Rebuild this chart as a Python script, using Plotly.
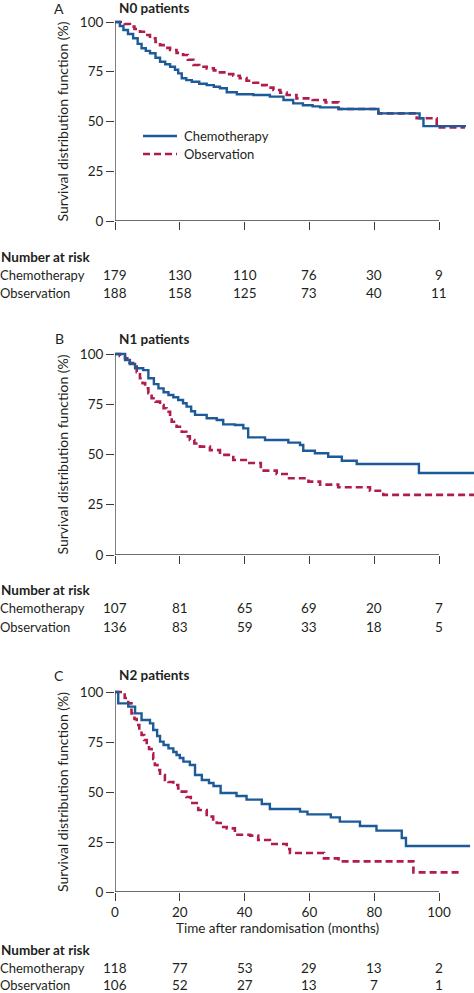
import plotly.graph_objects as go

# ---------------- DATA ----------------
months_ticks = [0, 20, 40, 60, 80, 100]
surv_ticks = [0, 25, 50, 75, 100]

# Panel A - N0 patients
a_chemo_t = [0, 1.5, 2.6, 4, 5.6, 7, 8.2, 9.5, 10.8, 12.5, 13.9, 15.5, 17, 18.5, 19.5, 20.6, 22, 23.7, 26, 28.3,
             30.5, 32.4, 34.5, 37.6, 42.7, 47.8, 52, 55, 58, 61, 63.3, 69, 81.3, 94, 95.2, 108.3]
a_chemo_s = [100, 98, 96, 94, 91.8, 89, 86.8, 85.5, 84.3, 82, 80, 78.8, 77.5, 76, 74.2, 71.7, 70.8, 70, 69, 68.3,
             67.5, 66.7, 64.7, 63.7, 63.3, 62.5, 60.8, 59.1, 58.2, 57.6, 57.1, 56.3, 54.1, 51.6, 47.7, 47.7]
a_obs_t = [0, 3, 4.6, 6, 7.7, 9.5, 10.8, 12.5, 13.9, 15.5, 17, 19, 21, 22.5, 24.2, 26, 28.3, 30.5, 32.4, 34.5,
           36.5, 38.5, 40.6, 42.7, 44.8, 46.8, 48.9, 51, 53, 56, 61, 65, 69, 81.3, 93.1, 99.3, 108]
a_obs_s = [100, 99, 97.7, 96.5, 95.1, 93.5, 91.8, 90, 88.4, 87, 85.9, 84.5, 83.4, 81, 78.4, 77.5, 76.7, 75.7, 74.7, 73.8,
           73, 71.8, 70.5, 69.5, 68.3, 67, 65.8, 64.5, 63.3, 61.6, 60.8, 59.6, 56.3, 54.1, 51.6, 47, 47]

# Panel B - N1 patients
b_chemo_t = [0, 3.1, 4.6, 6.2, 8.7, 10.3, 12, 13.4, 15, 16.5, 18, 19.5, 21, 22.1, 23.5, 24.7, 28.3, 31.4, 33.4, 37,
             39.6, 41.1, 46.3, 53.5, 57.1, 58.1, 61.7, 65.8, 70, 74.6, 93.8, 110.8]
b_chemo_s = [100, 97, 95, 92.9, 92, 87.9, 85, 82.9, 81, 79.6, 78.5, 77.1, 75.5, 73.8, 71.5, 69.7, 68, 67.2, 65, 64.7,
             63, 58.5, 57.2, 55.9, 54.7, 51.9, 50.6, 48.9, 46.9, 45.3, 40.8, 40.8]
b_obs_t = [0, 1.5, 3.1, 4.5, 5.6, 6.7, 7.7, 8.5, 9.3, 10.3, 11.3, 12.5, 13.9, 15, 15.9, 17, 17.5, 19, 20.6, 22,
           23.1, 24.5, 26.2, 29.3, 32.4, 36.5, 41, 45, 49.9, 53, 59.7, 63.3, 68.9, 78.7, 82.8, 110.8]
b_obs_s = [100, 99, 97.8, 95.5, 93.7, 91, 87.9, 85.5, 82.9, 80.5, 78, 76.3, 74.6, 73, 71.3, 69, 66.3, 63.8, 61.3, 59,
           57.2, 55.5, 53.9, 52.2, 49.8, 47.3, 45.8, 42, 40.3, 38.2, 36.5, 35, 33.7, 32, 29.9, 29.9]

# Panel C - N2 patients
c_chemo_t = [0, 1, 4.1, 6.2, 8.2, 10.8, 11.8, 13, 13.9, 15, 16.5, 18, 19, 20, 21.1, 23.1, 24.7, 26.8, 29, 30.4,
             32.6, 37.5, 40.6, 45.3, 47.8, 57.1, 59.4, 66.6, 69.4, 75.6, 80.7, 88.5, 89.8, 109.6]
c_chemo_s = [100, 94.3, 92.7, 89.3, 86, 84.3, 81, 78, 75.2, 73.5, 71.8, 70, 68.5, 67, 65.2, 63.5, 58.5, 56, 54.5, 53,
             49.5, 48, 46.2, 44, 41.5, 40.2, 38.8, 37.3, 35.2, 33, 30.7, 27, 23, 23]
c_obs_t = [0, 3, 4.1, 5.1, 6, 6.7, 7.5, 8.2, 9, 9.8, 10.5, 11.3, 11.8, 12.3, 13.1, 13.9, 15.4, 16.5, 18, 19.5,
           20.6, 22, 23.4, 25.7, 28.3, 30.3, 31.4, 33.4, 34.5, 37, 41.7, 44.2, 47.8, 53, 54, 64.5, 69, 92.1, 106.5]
c_obs_s = [100, 97, 94.3, 89.3, 86.5, 83.5, 81, 78.5, 76, 73.5, 71.5, 69.3, 66.5, 63.5, 61, 58.5, 56, 55, 53.5, 51.8,
           50.2, 47.5, 44.5, 41, 37.7, 35.5, 34.5, 32.5, 31.8, 28.6, 28.2, 26, 24, 21.5, 19.5, 16.8, 15.3, 9.8, 9.8]

# Number at risk
a_risk_chemo = [179, 130, 110, 76, 30, 9]
a_risk_obs = [188, 158, 125, 73, 40, 11]
b_risk_chemo = [107, 81, 65, 69, 20, 7]
b_risk_obs = [136, 83, 59, 33, 18, 5]
c_risk_chemo = [118, 77, 53, 29, 13, 2]
c_risk_obs = [106, 52, 27, 13, 7, 1]

panel_letters = ["A", "B", "C"]
panel_titles = ["N0 patients", "N1 patients", "N2 patients"]
group_names = ["Chemotherapy", "Observation"]
y_title = "Survival distribution function (%)"
x_title = "Time after randomisation (months)"

# ---------------- STYLE / LAYOUT ----------------
W, H = 474, 993
FONT = "Lato"
TXT = "#231f20"
AX = "#3a3a3a"
BLUE = "#1d5a98"
RED = "#b01d4a"
DASH = "7px,4px"
X_LEFT = 115
XMAX = 110.8
YTOP = 103

panels = [
    dict(y0=221, y100=22, chemo=(a_chemo_t, a_chemo_s), obs=(a_obs_t, a_obs_s),
         risk=(a_risk_chemo, a_risk_obs), head=8, risk_y=(257, 275, 293)),
    dict(y0=555, y100=354, chemo=(b_chemo_t, b_chemo_s), obs=(b_obs_t, b_obs_s),
         risk=(b_risk_chemo, b_risk_obs), head=339, risk_y=(590, 608, 627)),
    dict(y0=892, y100=692, chemo=(c_chemo_t, c_chemo_s), obs=(c_obs_t, c_obs_s),
         risk=(c_risk_chemo, c_risk_obs), head=675, risk_y=(950, 968, 985)),
]


def py(p):
    return 1 - p / H


def px(p):
    return p / W


fig = go.Figure()
layout = dict(template="none", width=W, height=H, margin=dict(l=0, r=0, t=0, b=0, autoexpand=False),
              paper_bgcolor="white", plot_bgcolor="white",
              font=dict(family=FONT, size=13, color=TXT),
              showlegend=False)
annotations = []
shapes = []

for i, p in enumerate(panels):
    n = i + 1
    xa = "x" if n == 1 else f"x{n}"
    ya = "y" if n == 1 else f"y{n}"
    k = (p["y0"] - p["y100"]) / 100.0
    top_px = p["y0"] - YTOP * k
    layout[f"xaxis{'' if n == 1 else n}"] = dict(
        domain=[X_LEFT / W, 1], range=[0, XMAX], anchor=ya, automargin=False,
        tickvals=months_ticks, ticks="outside", ticklen=8, tickwidth=1.3, tickcolor=AX,
        showticklabels=(n == 3), tickfont=dict(size=13.5, color=TXT),
        showgrid=False, zeroline=False, showline=False, fixedrange=True)
    layout[f"yaxis{'' if n == 1 else n}"] = dict(
        domain=[py(p["y0"]), py(top_px)], range=[0, YTOP], anchor=xa, automargin=False,
        tickvals=surv_ticks, ticks="outside", ticklen=8, tickwidth=1.3, tickcolor=AX,
        tickfont=dict(size=13.5, color=TXT),
        showgrid=False, zeroline=False, showline=False, fixedrange=True)

    ct, cs = p["chemo"]
    ot, os_ = p["obs"]
    fig.add_trace(go.Scatter(x=ot, y=os_, mode="lines", line=dict(color=RED, width=2.6, dash=DASH, shape="hv"),
                             name=group_names[1], xaxis=xa, yaxis=ya))
    fig.add_trace(go.Scatter(x=ct, y=cs, mode="lines", line=dict(color=BLUE, width=2.4, shape="hv"),
                             name=group_names[0], xaxis=xa, yaxis=ya))

    # axis lines 0-100
    shapes.append(dict(type="line", xref=xa, yref=ya, x0=0, x1=100, y0=0, y1=0,
                       line=dict(color=AX, width=1.3)))
    shapes.append(dict(type="line", xref=xa, yref=ya, x0=0, x1=0, y0=0, y1=100,
                       line=dict(color=AX, width=1.3)))

    # panel letter and title
    annotations.append(dict(text=panel_letters[i], xref="paper", yref="paper", x=px(59), y=py(p["head"]),
                            xanchor="center", yanchor="middle", showarrow=False,
                            font=dict(size=14, color=TXT, family=FONT)))
    annotations.append(dict(text=f"<b>{panel_titles[i]}</b>", xref="paper", yref="paper", x=px(117),
                            y=py(p["head"]), xanchor="left", yanchor="middle", showarrow=False,
                            font=dict(size=13.5, color=TXT, family=FONT)))
    # y title
    annotations.append(dict(text=y_title, xref="paper", yref="paper", x=px(62),
                            y=py((p["y0"] + p["y100"]) / 2), textangle=-90,
                            xanchor="center", yanchor="middle", showarrow=False,
                            font=dict(size=14, color=TXT, family=FONT)))
    # number at risk table
    ry = p["risk_y"]
    annotations.append(dict(text="<b>Number at risk</b>", xref="paper", yref="paper", x=px(-1), y=py(ry[0]),
                            xanchor="left", yanchor="middle", showarrow=False,
                            font=dict(size=13.5, color=TXT, family=FONT)))
    for row, (lab, vals) in enumerate(zip(group_names, p["risk"])):
        annotations.append(dict(text=lab, xref="paper", yref="paper", x=px(-2), y=py(ry[row + 1]),
                                xanchor="left", yanchor="middle", showarrow=False,
                                font=dict(size=13, color=TXT, family=FONT)))
        for t, v in zip(months_ticks, vals):
            annotations.append(dict(text=str(v), xref=xa, yref="paper", x=t, y=py(ry[row + 1]),
                                    xanchor="center", yanchor="middle", showarrow=False,
                                    font=dict(size=13.5, color=TXT, family=FONT)))

# x title for bottom panel
annotations.append(dict(text=x_title, xref="x3", yref="paper", x=50, y=py(928),
                        xanchor="center", yanchor="middle", showarrow=False,
                        font=dict(size=13.5, color=TXT, family=FONT)))

# legend key (panel A)
for (name, color, dash, ypix) in [(group_names[0], BLUE, "solid", 136), (group_names[1], RED, DASH, 154)]:
    shapes.append(dict(type="line", xref="paper", yref="paper", x0=px(143), x1=px(177), y0=py(ypix), y1=py(ypix),
                       line=dict(color=color, width=2.5, dash=dash)))
    annotations.append(dict(text=name, xref="paper", yref="paper", x=px(182), y=py(ypix),
                            xanchor="left", yanchor="middle", showarrow=False,
                            font=dict(size=13, color=TXT, family=FONT)))

layout["annotations"] = annotations
layout["shapes"] = shapes
fig.update_layout(**layout)
fig.write_html("out.html", config={"displayModeBar": False},
               post_script="document.body.style.margin='0';document.body.style.overflow='hidden';")
